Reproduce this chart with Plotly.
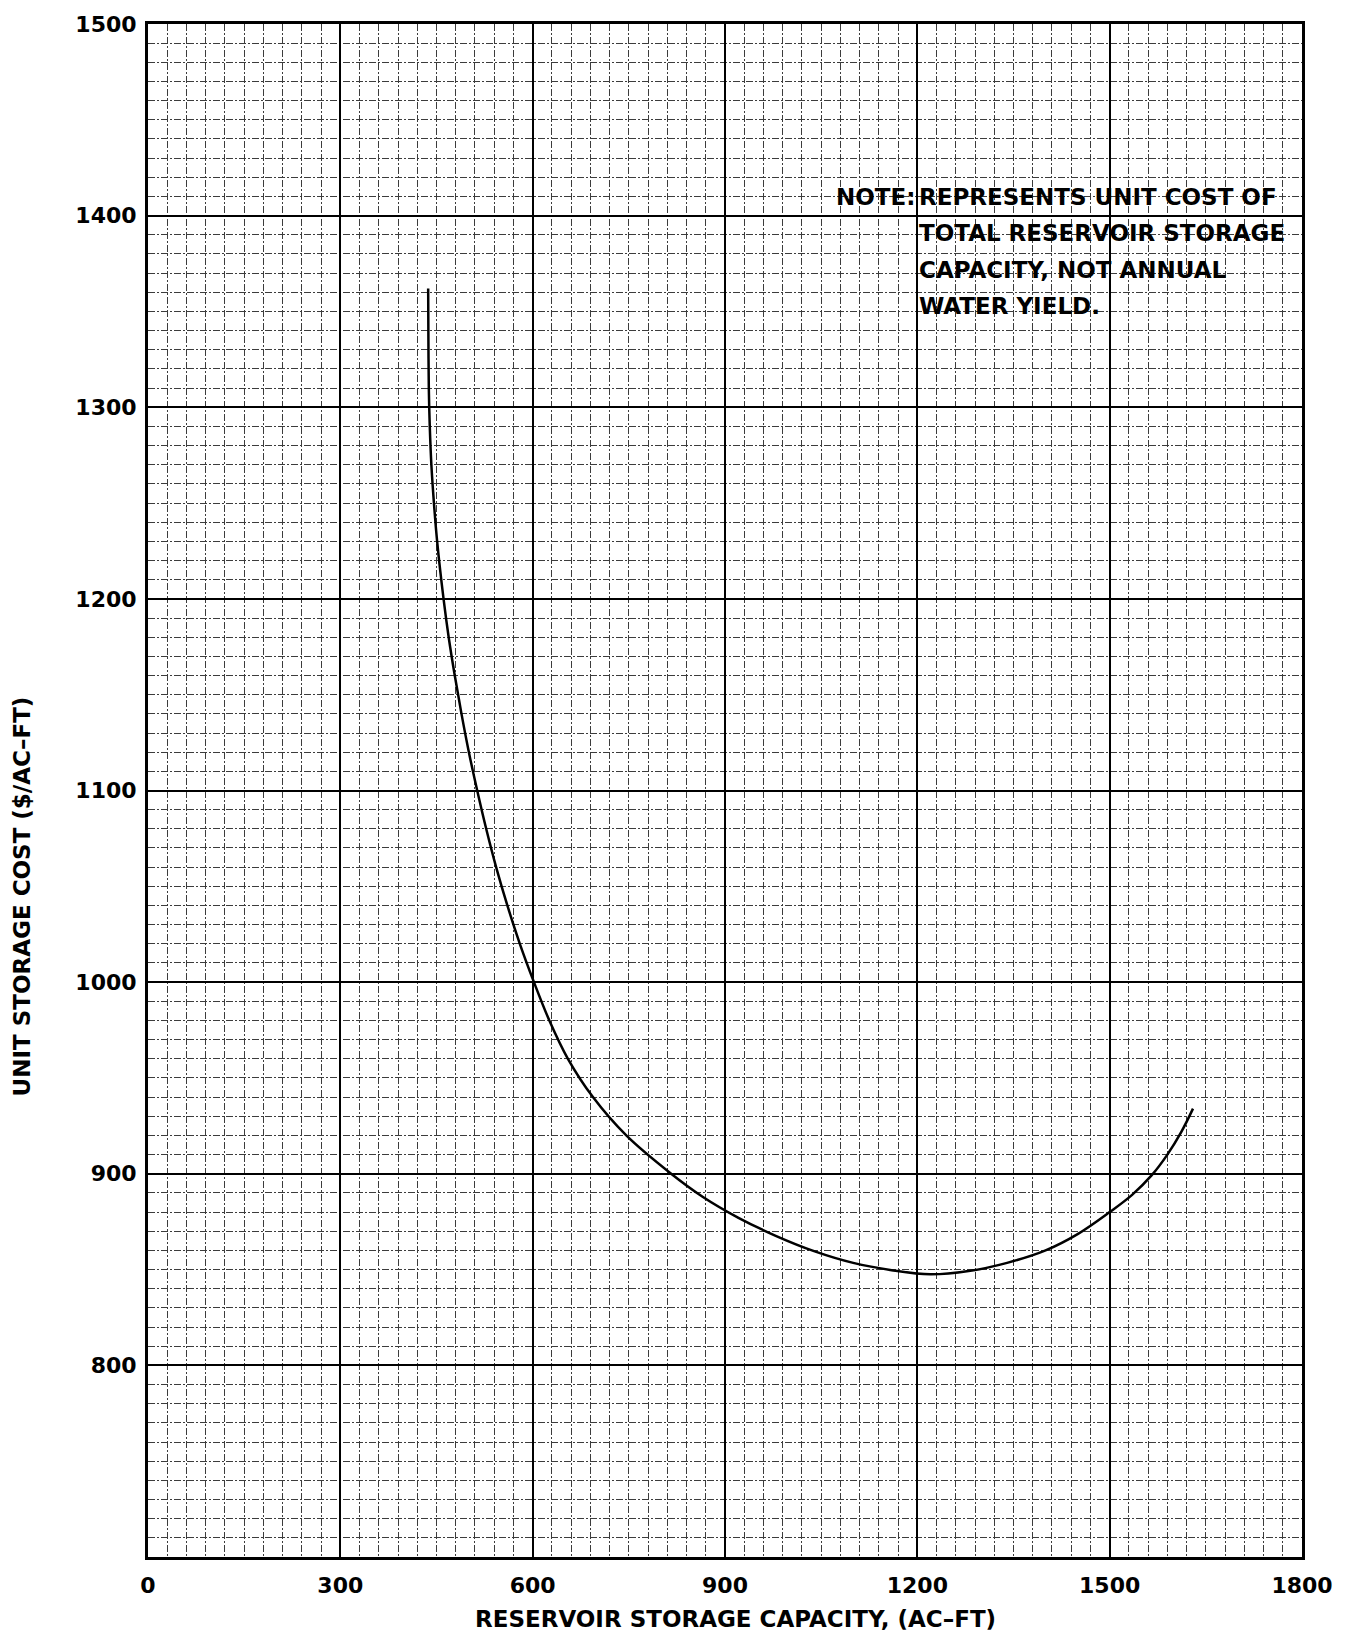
import plotly.graph_objects as go

# Reservoir storage capacity (ac-ft) and unit storage cost ($/ac-ft) along the cost curve
capacity_acft = [437, 437.3, 438, 439.5, 442, 446, 451, 461, 469, 478.5, 489, 500.5, 513.5,
                 527.5, 543, 560.5, 580, 602, 626, 655, 694, 746, 816, 865, 921, 980,
                 1040, 1100, 1160, 1220, 1280, 1340, 1400, 1450, 1500, 1535, 1565, 1590,
                 1612, 1630]
unit_cost = [1362, 1340, 1310, 1290, 1270, 1250, 1230, 1200, 1180, 1160, 1140, 1120, 1100,
             1080, 1060, 1040, 1020, 1000, 980, 960, 940, 920, 900, 888, 877, 867.5,
             859.5, 853.5, 849.7, 847.5, 849.2, 853.5, 860, 868.5, 880, 889, 899, 910,
             922, 934]

x_ticks = [0, 300, 600, 900, 1200, 1500, 1800]
y_ticks = [800, 900, 1000, 1100, 1200, 1300, 1400, 1500]

note_lines = ["REPRESENTS UNIT COST OF", "TOTAL RESERVOIR STORAGE",
              "CAPACITY, NOT ANNUAL", "WATER YIELD."]

FONT = "DejaVu Sans"
W, H = 1352, 1634
L, R, T, B = 148, 50, 16, 77
PW, PH = W - L - R, H - T - B


def px_x(px):
    return (px - L) / PW


def px_y(py):
    return 1 - (py - T) / PH


fig = go.Figure()
fig.add_trace(go.Scatter(
    x=capacity_acft, y=unit_cost, mode="lines",
    line=dict(color="black", width=2.5, shape="spline", smoothing=1.0),
    hoverinfo="x+y", showlegend=False,
))

grid_minor_common = dict(showgrid=True, gridcolor="#3c3c3c", gridwidth=1,
                         griddash="7px,2px,2px,2px", ticks="")
tick_font = dict(family=FONT, size=22, color="black", weight="bold")

fig.update_xaxes(
    range=[0, 1800], tickvals=x_ticks, ticktext=[str(v) for v in x_ticks],
    showgrid=True, gridcolor="black", gridwidth=2,
    showline=True, linecolor="black", linewidth=3, mirror=True,
    ticks="", ticklabelstandoff=7, zeroline=False, tickfont=tick_font,
    minor=dict(dtick=30, tick0=0, **grid_minor_common),
)
fig.update_yaxes(
    range=[700, 1500], tickvals=y_ticks, ticktext=[str(v) for v in y_ticks],
    showgrid=True, gridcolor="black", gridwidth=2,
    showline=True, linecolor="black", linewidth=3, mirror=True,
    ticks="", ticklabelstandoff=4, zeroline=False, tickfont=tick_font,
    minor=dict(dtick=10, tick0=700, **grid_minor_common),
)

title_font = dict(family=FONT, size=23, color="black", weight="bold")
# axis titles
fig.add_annotation(xref="paper", yref="paper", x=px_x(735), y=px_y(1619),
                   xanchor="center", yanchor="middle", showarrow=False,
                   text="RESERVOIR STORAGE CAPACITY, (AC\u2013FT)", font=title_font)
fig.add_annotation(xref="paper", yref="paper", x=px_x(22), y=px_y(893),
                   xanchor="center", yanchor="middle", showarrow=False, textangle=-90,
                   text="UNIT STORAGE COST ($/AC\u2013FT)", font=title_font)

# note block with hanging indent
note_font = dict(family=FONT, size=23, color="black", weight="bold")
note_y0, note_step = 190, 36.5
fig.add_annotation(xref="paper", yref="paper", x=px_x(834), y=px_y(note_y0),
                   xanchor="left", yanchor="middle", text="NOTE:", showarrow=False,
                   font=note_font)
for i, line in enumerate(note_lines):
    fig.add_annotation(xref="paper", yref="paper", x=px_x(917), y=px_y(note_y0 + i * note_step),
                       xanchor="left", yanchor="middle", text=line, showarrow=False,
                       font=note_font)

fig.update_layout(
    width=W, height=H,
    margin=dict(l=L, r=R, t=T, b=B),
    plot_bgcolor="white", paper_bgcolor="white",
)

fig.write_html("out.html")
